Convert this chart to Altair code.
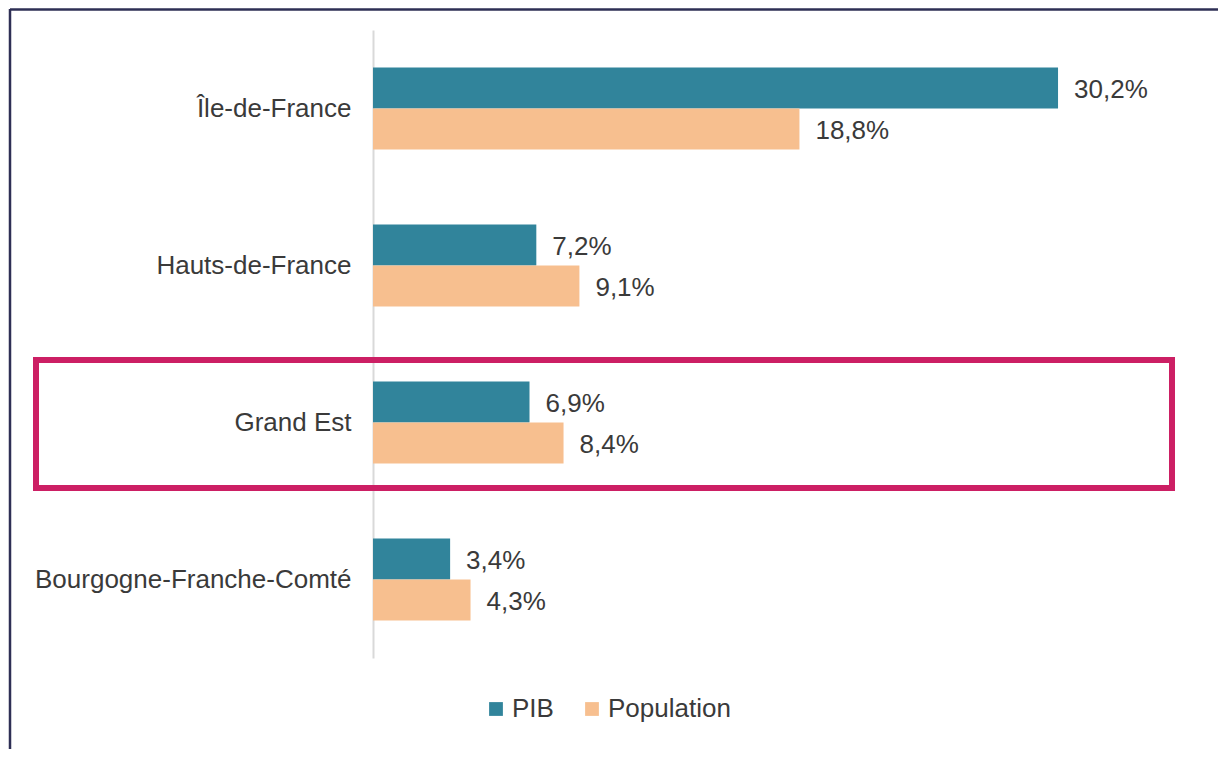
import altair as alt
import pandas as pd

regions = ["Île-de-France", "Hauts-de-France", "Grand Est", "Bourgogne-Franche-Comté"]
series = ["PIB", "Population"]
pib = [30.2, 7.2, 6.9, 3.4]
population = [18.8, 9.1, 8.4, 4.3]
colors = ["#31849B", "#F7BF8F"]

rows = []
for r, a, b in zip(regions, pib, population):
    rows.append({"region": r, "series": "PIB", "value": a})
    rows.append({"region": r, "series": "Population", "value": b})
df = pd.DataFrame(rows)

FONT = "Liberation Sans"
TXT = "#3a3a3a"
W, H = 820, 628

y_enc = alt.Y("region:N", sort=regions, title=None,
              scale=alt.Scale(paddingInner=0.478, paddingOuter=0.239),
              axis=alt.Axis(ticks=False, domainColor="#d9d9d9", domainWidth=2,
                            labelFontSize=26, labelColor=TXT, labelFont=FONT,
                            labelPadding=22, labelLimit=400))
yoff = alt.YOffset("series:N", sort=series, scale=alt.Scale(paddingInner=0, paddingOuter=0))
x_enc = alt.X("value:Q", scale=alt.Scale(domain=[0, 36.15]), axis=None, title=None)

base = alt.Chart(df)

bars = base.mark_bar().encode(
    y=y_enc, yOffset=yoff, x=x_enc,
    color=alt.Color("series:N", sort=series,
                    scale=alt.Scale(domain=series, range=colors),
                    legend=alt.Legend(orient="none", legendX=110, legendY=666,
                                      direction="horizontal", title=None,
                                      symbolType="square", symbolSize=190,
                                      symbolStrokeWidth=0,
                                      labelFontSize=26, labelColor=TXT, labelFont=FONT,
                                      labelOffset=3, columnPadding=25))
)

labels = base.mark_text(align="left", baseline="middle", dx=16, dy=2, fontSize=26,
                        font=FONT, color=TXT).encode(
    y=y_enc, yOffset=yoff, x=x_enc,
    text=alt.Text("lbl:N")
).transform_calculate(
    lbl="replace(format(datum.value, '.1f'), '.', ',') + '%'"
)

one = alt.Data(values=[{"k": 1}])

highlight = alt.Chart(one).mark_rect(fill=None, fillOpacity=0, stroke="#CC1F64",
                                     strokeWidth=6).encode(
    x=alt.value(-337), x2=alt.value(799), y=alt.value(330), y2=alt.value(458)
)

frame_top = alt.Chart(one).mark_rule(color="#2E2F55", strokeWidth=2.5).encode(
    x=alt.value(-363), x2=alt.value(W + 30), y=alt.value(-20.5)
)
frame_left = alt.Chart(one).mark_rule(color="#2E2F55", strokeWidth=2.5).encode(
    x=alt.value(-363), y=alt.value(-21), y2=alt.value(H + 120)
)

chart = alt.layer(bars, labels, highlight, frame_top, frame_left).properties(
    width=W, height=H,
    background="white",
    autosize=alt.AutoSizeParams(type="none"),
    padding={"left": 365, "top": 22, "right": 1210 - 365 - W, "bottom": 741 - 22 - H},
).configure_view(strokeWidth=0, stroke="transparent")

chart.save("out.html", embed_options={"renderer": "svg", "actions": False})
